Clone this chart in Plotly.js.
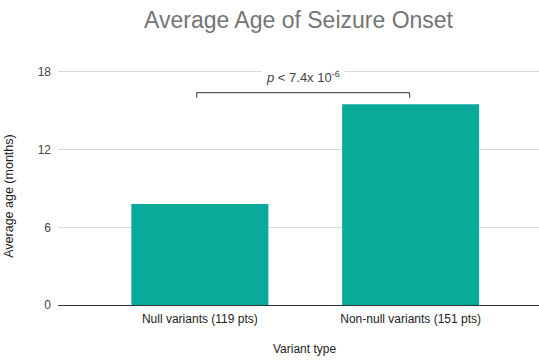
<!DOCTYPE html>
<html>
<head>
<meta charset="utf-8">
<script src="https://cdn.plot.ly/plotly-3.0.1.min.js"></script>
<style>html,body{margin:0;padding:0;background:#fff;}#chart{width:539px;height:363px;}</style>
</head>
<body>
<div id="chart"></div>
<script>
const categories = ["Null variants (119 pts)", "Non-null variants (151 pts)"];
const avgAge = [7.8, 15.5];
const yTicks = [0, 6, 12, 18];
const pText = "<i>p</i> < 7.4x 10<sup>-6</sup>";
const bracketLow = 16.0, bracketHigh = 16.4;

const font = "Arial, 'Liberation Sans', sans-serif";

const trace = {
  type: "bar",
  x: categories,
  y: avgAge,
  width: 0.65,
  marker: {color: "#0aaa9b"},
  hoverinfo: "x+y"
};

const layout = {
  width: 539, height: 363,
  margin: {l: 58, r: 0, t: 46, b: 58},
  paper_bgcolor: "#fff", plot_bgcolor: "#fff",
  font: {family: font, size: 12, color: "#444"},
  showlegend: false,
  title: {text: "Average Age of Seizure Onset", font: {family: font, size: 23, color: "#757575"},
          x: 0.5, xref: "paper", y: 0.945, yanchor: "middle"},
  xaxis: {
    type: "category",
    range: [-0.673, 1.609],
    showgrid: false, zeroline: false, showline: false,
    ticks: "", ticklabelstandoff: 5, tickfont: {size: 12, color: "#222"},
    fixedrange: true
  },
  yaxis: {
    range: [0, 20],
    tickvals: yTicks, ticktext: yTicks.map(String),
    showgrid: true, gridcolor: "#d9d9d9", gridwidth: 1,
    zeroline: true, zerolinecolor: "#333", zerolinewidth: 1,
    ticks: "", ticklabelstandoff: 6,
    tickfont: {size: 12, color: "#444"},
    fixedrange: true
  },
  shapes: [
    {type: "line", xref: "x", yref: "y", x0: -0.015, x1: 0.995, y0: bracketHigh, y1: bracketHigh, line: {color: "#555", width: 1.2}},
    {type: "line", xref: "x", yref: "y", x0: -0.015, x1: -0.015, y0: bracketLow, y1: bracketHigh, line: {color: "#555", width: 1.2}},
    {type: "line", xref: "x", yref: "y", x0: 0.995, x1: 0.995, y0: bracketLow, y1: bracketHigh, line: {color: "#555", width: 1.2}}
  ],
  annotations: [
    {text: pText, xref: "x", yref: "y", x: 0.49, y: 17.6, showarrow: false,
     font: {size: 13, color: "#444"}, bgcolor: "#fff", borderpad: 4},
    {text: "Variant type", xref: "paper", yref: "paper", x: 0.5135, y: -0.17, yanchor: "middle",
     showarrow: false, font: {size: 12, color: "#222"}},
    {text: "Average age (months)", xref: "paper", yref: "paper", x: -0.102, y: 0.4215,
     xanchor: "center", yanchor: "middle", textangle: -90,
     showarrow: false, font: {size: 12.5, color: "#222"}}
  ]
};

Plotly.newPlot("chart", [trace], layout, {displayModeBar: false, staticPlot: true});
</script>
</body>
</html>
